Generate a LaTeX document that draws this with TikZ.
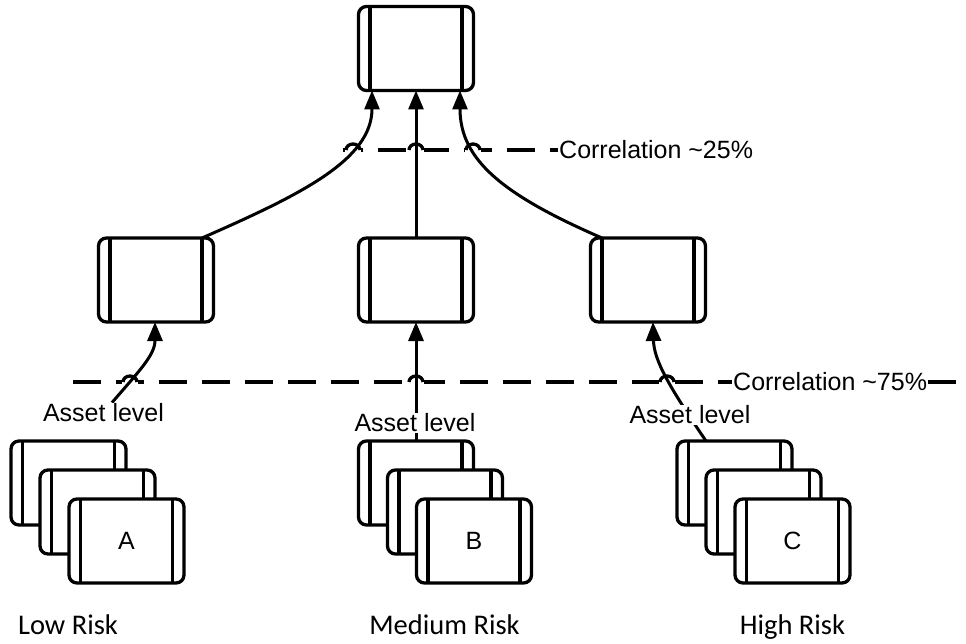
\documentclass[tikz,border=0pt]{standalone}
\usepackage{fontspec}
\setmainfont{Liberation Sans}
\newfontfamily\riskfont{Carlito}
\usetikzlibrary{arrows.meta,backgrounds}

\begin{document}
\begin{tikzpicture}[x=1pt,y=-1pt,
  procbox/.style={draw, line width=3.3pt, fill=white, rounded corners=8pt,
    minimum width=115pt, minimum height=84pt, outer sep=0pt, inner sep=0pt,
    font=\fontsize{25}{30}\selectfont,
    path picture={\draw[line width=3.3pt]
      ([xshift=11.5pt]path picture bounding box.north west) --
      ([xshift=11.5pt]path picture bounding box.south west)
      ([xshift=-11.5pt]path picture bounding box.north east) --
      ([xshift=-11.5pt]path picture bounding box.south east);}},
  link/.style={line width=3pt, -{Triangle[length=19pt,width=15pt]}},
  corrline/.style={line width=3.3pt, dash pattern=on 28pt off 15pt},
  hopline/.style={line width=3.3pt},
  hopgap/.style={fill=white},
  lbl/.style={font=\fontsize{25}{30}\selectfont, inner sep=1pt},
  assetlbl/.style={lbl, fill=white},
  risklbl/.style={font=\riskfont\fontsize{28.5}{34}\selectfont, inner sep=0pt}
]
\useasboundingbox (0,0) rectangle (966,644);

% aggregate level
\node[procbox] (top) at (416,48.5) {};
\node[procbox] (ml) at (156,280) {};
\node[procbox] (mc) at (416,280) {};
\node[procbox] (mr) at (648,280) {};

% asset stacks
\node[procbox] (A1) at (68.5,483) {};
\node[procbox] (A2) at (97.5,512) {};
\node[procbox] (A3) at (126.5,541) {A};
\node[procbox] (B1) at (416,483) {};
\node[procbox] (B2) at (445,512) {};
\node[procbox] (B3) at (474,541) {B};
\node[procbox] (C1) at (734.5,483) {};
\node[procbox] (C2) at (763.5,512) {};
\node[procbox] (C3) at (792.5,541) {C};

% labels
\node[assetlbl] (alA) at (103.5,413) {Asset level};
\node[assetlbl] (alB) at (415,423) {Asset level};
\node[assetlbl] (alC) at (690,415) {Asset level};
\node[lbl, anchor=west] (corr25) at (558,150) {Correlation \textasciitilde25\%};
\node[lbl, anchor=west] (corr75) at (732,382) {Correlation \textasciitilde75\%};
\node[risklbl] (lowrisk) at (68,625) {Low Risk};
\node[risklbl] (medrisk) at (444.5,625) {Medium Risk};
\node[risklbl] (highrisk) at (792.5,627) {High Risk};

\coordinate (d25s) at (343,150);
\coordinate (d75s) at (73,382);
\coordinate (d75e) at (966,382);

\begin{pgfonlayer}{background}
  % correlation thresholds
  \draw[corrline, dash phase=8pt] (d25s) -- (corr25.west);
  \draw[corrline] (d75s) -- (corr75.west);
  \draw[corrline] (corr75.east) -- (d75e);
  % line jumps where links cross the thresholds
  \foreach \hx/\hy in {353/150, 416/150, 473/150, 130/382, 416/382, 667/382} {
    \fill[hopgap] (\hx-8,\hy-3) rectangle (\hx+8,\hy+3);
    \draw[hopline] (\hx-7,\hy) arc[start angle=180, end angle=360, x radius=7, y radius=6];
  }
  % links to the top level
  \draw[link] ([xshift=-11.5pt]ml.north east) .. controls (300,195) and (372,160) .. ([xshift=-44pt]top.south);
  \draw[link] (mc.north) -- (top.south);
  \draw[link] ([xshift=11.5pt]mr.north west) .. controls (503,195) and (460,160) .. ([xshift=44pt]top.south);
  % links from asset level
  \draw[link] ([xshift=8.5pt]alA.north) .. controls (140,370) and (155,355) .. ([xshift=-1pt]ml.south);
  \draw[link] (B1.north) -- (mc.south);
  \draw[link] ([xshift=-28.5pt]C1.north) .. controls (668,385) and (654,360) .. ([xshift=5pt]mr.south);
\end{pgfonlayer}
\end{tikzpicture}
\end{document}
